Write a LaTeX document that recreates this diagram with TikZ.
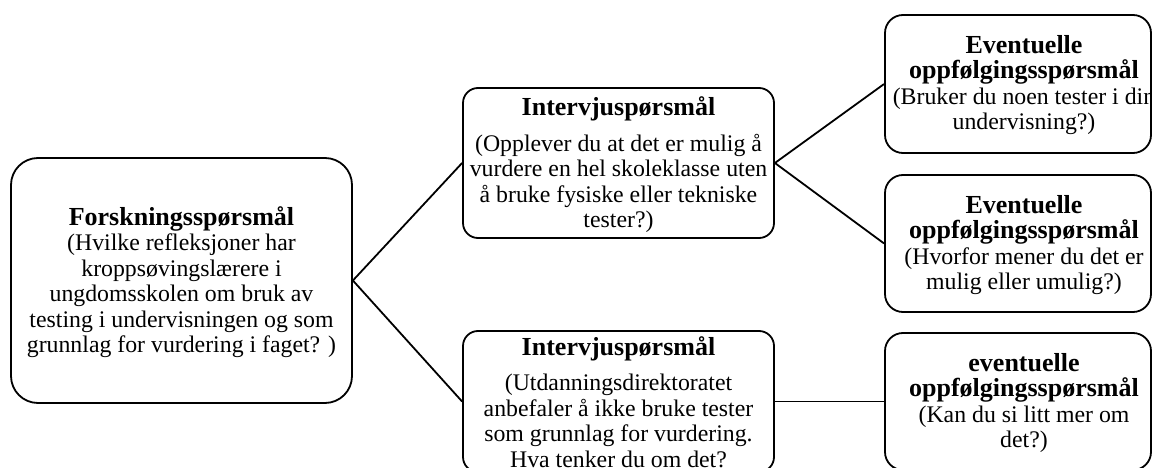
\documentclass[tikz,border=0pt]{standalone}
\usepackage{fontspec}
\setmainfont{Liberation Serif}
\newcommand\ttl[1]{{\fontsize{26}{25.5}\selectfont\bfseries #1}}
\begin{document}
\begin{tikzpicture}[x=1pt,y=-1pt,
  box/.style={draw=black, line width=1.8pt, fill=white, inner sep=0pt, minimum width=#1},
  txt/.style={font=\fontsize{23.8}{25.5}\selectfont, align=center, inner sep=0pt, text=black},
  conn/.style={draw=black, line width=1.8pt}]
\useasboundingbox (0,0) rectangle (1152,468);
\fill[white] (0,0) rectangle (1152,468);
\clip (0,0) rectangle (1152,468);
% boxes
\node[box=341pt, minimum height=245pt, rounded corners=27pt] (F) at (181.5,280.5) {};
\node[box=311pt, minimum height=150pt, rounded corners=15pt] (I1) at (618.5,163) {};
\node[box=311pt, minimum height=141pt, rounded corners=15pt] (I2) at (618.5,401.5) {};
\node[box=266pt, minimum height=138pt, rounded corners=18pt] (E1) at (1018,84) {};
\node[box=266pt, minimum height=137pt, rounded corners=18pt] (E2) at (1018,243.5) {};
\node[box=266pt, minimum height=137pt, rounded corners=18pt] (E3) at (1018,401.5) {};
% connectors
\draw[conn] (F.east) -- (I1.west);
\draw[conn] (F.east) -- (I2.west);
\draw[conn] (I1.east) -- (E1.west);
\draw[conn] (I1.east) -- (E2.west);
\draw[conn] (I2.east) -- (E3.west);
% texts
\node[txt] (tF) at (181.5,282) {\ttl{Forskningsspørsmål}\\(Hvilke refleksjoner har\\kroppsøvingslærere i\\ungdomsskolen om bruk av\\testing i undervisningen og som\\grunnlag for vurdering i faget? )};
\node[txt] (tI1) at (618.5,165) {\ttl{Intervjuspørsmål}\\[10pt](Opplever du at det er mulig å\\vurdere en hel skoleklasse uten\\å bruke fysiske eller tekniske\\tester?)};
\node[txt] (tI2) at (618.5,402) {\ttl{Intervjuspørsmål}\\[10pt](Utdanningsdirektoratet\\anbefaler å ikke bruke tester\\som grunnlag for vurdering.\\Hva tenker du om det?};
\node[txt] (tE1) at (1024,85) {\ttl{Eventuelle}\\\ttl{oppfølgingsspørsmål}\\(Bruker du noen tester i din\\undervisning?)};
\node[txt] (tE2) at (1024,245) {\ttl{Eventuelle}\\\ttl{oppfølgingsspørsmål}\\(Hvorfor mener du det er\\mulig eller umulig?)};
\node[txt] (tE3) at (1024,403) {\ttl{eventuelle}\\\ttl{oppfølgingsspørsmål}\\(Kan du si litt mer om\\det?)};
\end{tikzpicture}
\end{document}
